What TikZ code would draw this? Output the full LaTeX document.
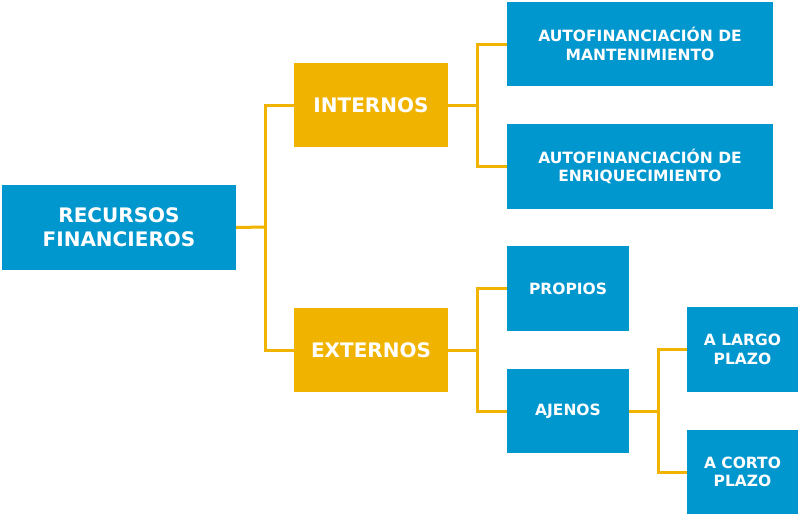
\documentclass[tikz,border=0pt]{standalone}
\usepackage{fontspec}
\setmainfont{DejaVu Sans}
\begin{document}
\begin{tikzpicture}[x=1pt,y=-1pt,
 box/.style={fill=blu,text=white,font=\bfseries\fontsize{15.5}{18.5}\selectfont,align=center,inner sep=0pt},
 gbox/.style={fill=gold,text=white,font=\bfseries\fontsize{20}{24}\selectfont,align=center,inner sep=0pt},
 ln/.style={draw=gold,line width=3pt}]
\definecolor{blu}{HTML}{0096CE}
\definecolor{gold}{HTML}{F0B400}
\useasboundingbox (0,0) rectangle (800,517);
\def\bx#1#2#3#4#5#6#7{\node[#7,minimum width=#4-#2,minimum height=#5-#3] (#1) at ({(#2+#4)/2},{(#3+#5)/2}) {#6};}
\bx{rf}{2}{185}{236}{270}{RECURSOS\\FINANCIEROS}{gbox,fill=blu}
\bx{int}{294}{63}{448}{147}{INTERNOS}{gbox}
\bx{ext}{294}{308}{448}{392}{EXTERNOS}{gbox}
\bx{am}{507}{2}{773}{86}{AUTOFINANCIACIÓN DE\\MANTENIMIENTO}{box}
\bx{ae}{507}{124}{773}{209}{AUTOFINANCIACIÓN DE\\ENRIQUECIMIENTO}{box}
\bx{pr}{507}{246}{629}{331}{PROPIOS}{box}
\bx{aj}{507}{369}{629}{453}{AJENOS}{box}
\bx{lp}{687}{307}{798}{392}{A LARGO\\PLAZO}{box}
\bx{cp}{687}{430}{798}{514}{A CORTO\\PLAZO}{box}
\draw[ln] (rf.east) -- (265,227);
\draw[ln] (int.west) -| (265,227) |- (ext.west);
\draw[ln] (int.east) -- (477,105);
\draw[ln] (am.west) -| (477,105) |- (ae.west);
\draw[ln] (ext.east) -- (477,350);
\draw[ln] (pr.west) -| (477,350) |- (aj.west);
\draw[ln] (aj.east) -- (658,411);
\draw[ln] (lp.west) -| (658,411) |- (cp.west);
\end{tikzpicture}
\end{document}
